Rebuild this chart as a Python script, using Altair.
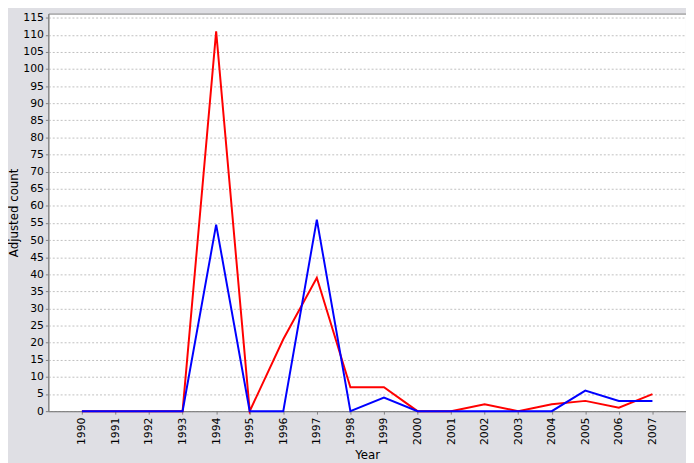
import altair as alt
import pandas as pd

years = [str(y) for y in range(1990, 2008)]
red_values = [0, 0, 0, 0, 111, 0, 21, 39, 7, 7, 0, 0, 2, 0, 2, 3, 1, 5]
blue_values = [0, 0, 0, 0, 54.5, 0, 0, 56, 0, 4, 0, 0, 0, 0, 0, 6, 3, 3]
series_names = ["Series A", "Series B"]
series_colors = ["#FF0000", "#0000FF"]
y_ticks = list(range(0, 120, 5))

rows = []
for name, vals in zip(series_names, [red_values, blue_values]):
    for y, v in zip(years, vals):
        rows.append({"Year": y, "count": v, "series": name})
df = pd.DataFrame(rows)

chart = (
    alt.Chart(df)
    .mark_line(strokeWidth=2)
    .encode(
        x=alt.X(
            "Year:O",
            sort=years,
            scale=alt.Scale(type="point", padding=1.32),
            axis=alt.Axis(
                title="Year",
                labelAngle=270,
                labelFontSize=11,
                titleFontSize=12,
                titleFontWeight="normal",
                titlePadding=5,
                tickSize=3,
                grid=False,
                domainColor="#808080",
                tickColor="#808080",
                labelColor="#000000",
                labelPadding=3,
            ),
        ),
        y=alt.Y(
            "count:Q",
            scale=alt.Scale(domain=[0, 116.2], nice=False, zero=True),
            axis=alt.Axis(
                title="Adjusted count",
                values=y_ticks,
                labelFontSize=11,
                titleFontSize=12,
                titleFontWeight="normal",
                titlePadding=2,
                tickSize=3,
                grid=True,
                gridColor="#C0C0C0",
                gridDash=[2, 2],
                gridWidth=1,
                domainColor="#808080",
                tickColor="#808080",
                labelColor="#000000",
                labelPadding=2,
            ),
        ),
        color=alt.Color(
            "series:N",
            scale=alt.Scale(domain=series_names, range=series_colors),
            legend=None,
        ),
        order=alt.Order("series:N"),
    )
    .properties(
        width=648,
        height=404,
        background="#DFDFE4",
        padding={"left": 0, "top": 0, "right": 0, "bottom": 0},
    )
    .configure_view(fill="#FFFFFF", stroke="#808080", strokeWidth=1)
    .configure_axis(labelFont="DejaVu Sans", titleFont="DejaVu Sans")
)

chart.save("out.html", embed_options={"renderer": "svg", "actions": False})
